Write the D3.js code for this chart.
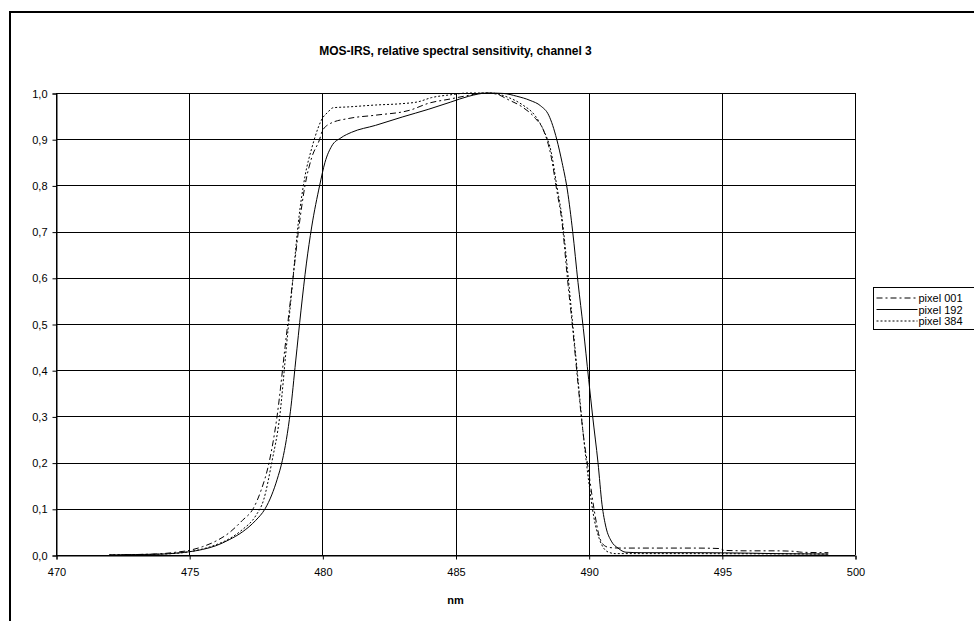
<!DOCTYPE html>
<html>
<head>
<meta charset="utf-8">
<script src="https://cdn.jsdelivr.net/npm/d3@7"></script>
<style>
  body { margin: 0; background: #fff; }
  svg { display: block; }
  svg text { font-family: "Liberation Sans", Arial, sans-serif; fill: #000; }
</style>
</head>
<body>
<div id="chart"></div>
<script>
// Series data (wavelength nm, relative sensitivity)
const pixel001Nm = [472, 473, 474, 474.5, 475, 475.5, 476, 476.5, 477, 477.4, 477.7, 478, 478.3, 478.6, 478.9, 479.1, 479.35, 479.6, 479.9, 480, 480.3, 481, 482, 483.3, 484, 484.8, 485.5, 486, 486.5, 487, 487.5, 488, 488.3, 488.6, 488.8, 489, 489.2, 489.4, 489.6, 489.8, 490, 490.2, 490.4, 490.6, 490.8, 491.2, 492, 493, 494, 494.9, 495.1, 496, 497, 497.7, 498, 499];
const pixel001Val = [0, 0.001, 0.003, 0.006, 0.01, 0.018, 0.03, 0.048, 0.075, 0.1, 0.14, 0.2, 0.3, 0.45, 0.6, 0.7, 0.8, 0.86, 0.9, 0.918, 0.934, 0.945, 0.952, 0.963, 0.978, 0.987, 0.995, 1.0, 0.998, 0.985, 0.97, 0.945, 0.92, 0.86, 0.79, 0.72, 0.6, 0.49, 0.37, 0.26, 0.18, 0.1, 0.04, 0.02, 0.016, 0.015, 0.015, 0.015, 0.015, 0.014, 0.01, 0.009, 0.009, 0.008, 0.006, 0.005];

const pixel192Nm = [472, 473, 474, 474.5, 475, 475.5, 476, 476.5, 477, 477.5, 477.85, 478.1, 478.3, 478.5, 478.65, 478.8, 479, 479.2, 479.4, 479.6, 479.9, 480.1, 480.35, 480.7, 481.1, 482, 483, 484, 484.8, 485.5, 486.2, 486.8, 487.3, 487.8, 488.2, 488.5, 488.8, 489, 489.2, 489.4, 489.6, 489.8, 490, 490.15, 490.35, 490.5, 490.65, 490.85, 491.1, 491.4, 492, 494, 496, 497, 499];
const pixel192Val = [0, 0.001, 0.002, 0.004, 0.007, 0.012, 0.02, 0.033, 0.05, 0.075, 0.1, 0.13, 0.163, 0.205, 0.25, 0.31, 0.42, 0.53, 0.63, 0.71, 0.8, 0.85, 0.885, 0.903, 0.915, 0.93, 0.948, 0.965, 0.98, 0.993, 1.0, 0.999, 0.993, 0.984, 0.972, 0.952, 0.9, 0.85, 0.79, 0.7, 0.59, 0.49, 0.38, 0.3, 0.2, 0.11, 0.06, 0.03, 0.015, 0.006, 0.005, 0.005, 0.004, 0.003, 0.002];

const pixel384Nm = [472, 473, 474, 475, 475.5, 476, 476.5, 477, 477.5, 477.8, 478.1, 478.4, 478.65, 478.9, 479.1, 479.35, 479.6, 479.7, 480, 480.2, 480.4, 481, 482, 483, 483.6, 484.1, 484.8, 485.5, 486.3, 487, 487.5, 488, 488.3, 488.6, 488.8, 489, 489.2, 489.4, 489.6, 489.8, 490, 490.2, 490.4, 490.6, 490.8, 491, 493, 499];
const pixel384Val = [0, 0.001, 0.002, 0.007, 0.013, 0.022, 0.035, 0.055, 0.085, 0.12, 0.2, 0.3, 0.45, 0.6, 0.72, 0.82, 0.88, 0.9, 0.945, 0.958, 0.968, 0.97, 0.974, 0.977, 0.981, 0.99, 0.996, 1.0, 1.0, 0.99, 0.975, 0.95, 0.92, 0.87, 0.8, 0.73, 0.62, 0.5, 0.38, 0.26, 0.16, 0.08, 0.035, 0.012, 0.005, 0.003, 0.003, 0.002];

const seriesNames = ['pixel 001', 'pixel 192', 'pixel 384'];
const xTicks = [470, 475, 480, 485, 490, 495, 500];
const yTicks = [0, 0.1, 0.2, 0.3, 0.4, 0.5, 0.6, 0.7, 0.8, 0.9, 1.0];

const series = [
    { name: seriesNames[0], nm: pixel001Nm, val: pixel001Val, dash: '6,3,2,3' },
    { name: seriesNames[1], nm: pixel192Nm, val: pixel192Val, dash: null },
    { name: seriesNames[2], nm: pixel384Nm, val: pixel384Val, dash: '2,2' }
];

const width = 974, height = 621;
const plot = { left: 56, right: 855, top: 93, bottom: 555 };

const svg = d3.select('#chart').append('svg')
    .attr('width', width)
    .attr('height', height);

// outer chart frame (runs off the right and bottom of the picture)
svg.append('path')
    .attr('d', `M10,${height + 5}V12H${width + 5}`)
    .attr('fill', 'none')
    .attr('stroke', '#000')
    .attr('stroke-width', 2);

const x = d3.scaleLinear().domain([470, 500]).range([plot.left, plot.right]);
const y = d3.scaleLinear().domain([0, 1]).range([plot.bottom, plot.top]);

const fmt = d3.formatLocale({ decimal: ',', thousands: '.', grouping: [3], currency: ['', ''] }).format('.1f');

// gridlines
svg.append('g')
    .selectAll('line')
    .data(yTicks)
    .join('line')
    .attr('x1', plot.left).attr('x2', plot.right)
    .attr('y1', d => Math.round(y(d)) + 0.5).attr('y2', d => Math.round(y(d)) + 0.5)
    .attr('stroke', '#000').attr('stroke-width', 1);

svg.append('g')
    .selectAll('line')
    .data(xTicks)
    .join('line')
    .attr('x1', d => Math.round(x(d)) + 0.5).attr('x2', d => Math.round(x(d)) + 0.5)
    .attr('y1', plot.top).attr('y2', plot.bottom)
    .attr('stroke', '#000').attr('stroke-width', 1);

// axes
const xAxis = svg.append('g')
    .attr('transform', `translate(0.5,${Math.round(y(0)) + 0.5})`)
    .call(d3.axisBottom(x).tickValues(xTicks).tickSize(4).tickPadding(9).tickFormat(d3.format('d')));
const yAxis = svg.append('g')
    .attr('transform', `translate(${Math.round(x(470)) + 0.5},0.5)`)
    .call(d3.axisLeft(y).tickValues(yTicks).tickSize(4).tickPadding(5).tickFormat(fmt));

[xAxis, yAxis].forEach(a => {
    a.select('.domain').attr('stroke', '#000');
    a.selectAll('.tick line').attr('stroke', '#000');
    a.selectAll('text').style('font-size', '11px').attr('fill', '#000')
        .style('font-family', '"Liberation Sans", Arial, sans-serif');
});

// curves
const line = d3.line()
    .x(d => x(d[0]))
    .y(d => y(d[1]))
    .curve(d3.curveMonotoneX);

series.forEach(s => {
    svg.append('path')
        .datum(d3.zip(s.nm, s.val))
        .attr('d', line)
        .attr('fill', 'none')
        .attr('stroke', '#000')
        .attr('stroke-width', 1)
        .attr('stroke-dasharray', s.dash);
});

// title and axis label
svg.append('text')
    .attr('x', (plot.left + plot.right) / 2)
    .attr('y', 55)
    .attr('text-anchor', 'middle')
    .style('font-size', '12px')
    .style('font-weight', 'bold')
    .text('MOS-IRS, relative spectral sensitivity, channel 3');

svg.append('text')
    .attr('x', (plot.left + plot.right) / 2)
    .attr('y', 604)
    .attr('text-anchor', 'middle')
    .style('font-size', '11px')
    .style('font-weight', 'bold')
    .text('nm');

// legend (box is cut off by the right edge, as in the source)
const legend = svg.append('g').attr('transform', 'translate(873.5,287.5)');
legend.append('rect')
    .attr('width', 130).attr('height', 42)
    .attr('fill', '#fff').attr('stroke', '#000');

series.forEach((s, i) => {
    const row = legend.append('g').attr('transform', `translate(0, ${10.5 + i * 11.5})`);
    row.append('line')
        .attr('x1', 3).attr('x2', 44)
        .attr('stroke', '#000')
        .attr('stroke-dasharray', s.dash);
    row.append('text')
        .attr('x', 45).attr('y', 4)
        .style('font-size', '11px')
        .text(s.name);
});
</script>
</body>
</html>
